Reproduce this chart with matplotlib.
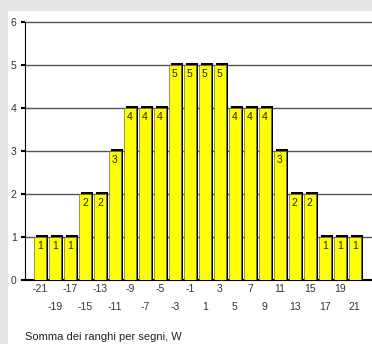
import numpy as np
import matplotlib
matplotlib.use("Agg")
import matplotlib.pyplot as plt
from matplotlib.patches import Rectangle

# data
w_values = [-21, -19, -17, -15, -13, -11, -9, -7, -5, -3, -1,
            1, 3, 5, 7, 9, 11, 13, 15, 17, 19, 21]
counts = [1, 1, 1, 2, 2, 3, 4, 4, 4, 5, 5,
          5, 5, 4, 4, 4, 3, 2, 2, 1, 1, 1]
xlabel_text = "Somma dei ranghi per segni, W"


def main():
    plt.rcParams['font.family'] = ['Liberation Sans', 'DejaVu Sans']

    W, H = 372, 344
    fig = plt.figure(figsize=(W / 100, H / 100), dpi=100)
    fig.patch.set_facecolor('#e6e6e6')
    # white panel (behind the axes)
    fig.patches.append(Rectangle((8 / W, 0), 1 - 8 / W, 1 - 11 / H,
                                 transform=fig.transFigure,
                                 facecolor='white', edgecolor='none', zorder=-5))

    ax = fig.add_axes([25 / W, 1 - 280 / H, 1 - 25 / W, (280 - 22) / H])
    ax.set_facecolor('none')

    x = np.array(w_values)
    v = np.array(counts)

    # shadow + bars
    ax.bar(x + 0.3, v + 0.05, width=1.6, color='black', zorder=2)
    ax.bar(x, v, width=1.6, color='#ffff00', edgecolor='#666666',
           linewidth=0.5, zorder=3)

    for xi, vi in zip(x, v):
        ax.text(xi, vi - 0.22, str(vi), ha='center', va='center',
                fontsize=7.5, color='#222222', zorder=4)

    ax.set_xlim(-23, 23.3)
    ax.set_ylim(0, 6)
    ax.set_yticks(range(0, 7))
    for yv in range(1, 7):
        ax.axhline(yv, color='#555555', linewidth=1, zorder=1, clip_on=False)

    ax.set_xticks(x[0::2])
    ax.set_xticklabels([str(t) for t in x[0::2]])
    ax.set_xticks(x[1::2], minor=True)
    ax.set_xticklabels([str(t) for t in x[1::2]], minor=True)
    ax.tick_params(axis='x', which='both', length=0, labelsize=7.5, colors='#333333')
    ax.tick_params(axis='x', which='major', pad=3)
    ax.tick_params(axis='x', which='minor', pad=16)
    ax.tick_params(axis='y', length=3, width=1.5, labelsize=7.5, colors='black',
                   labelcolor='#333333', pad=3)

    for s in ['top', 'right']:
        ax.spines[s].set_visible(False)
    ax.spines['left'].set_color('black')
    ax.spines['bottom'].set_color('black')
    ax.spines['bottom'].set_linewidth(1.5)

    fig.text(25 / W, 1 - 337 / H, xlabel_text, ha='left', va='center',
             fontsize=8, color='#222222')

    fig.savefig('out.png', dpi=100, facecolor=fig.get_facecolor())


if __name__ == "__main__":
    main()
